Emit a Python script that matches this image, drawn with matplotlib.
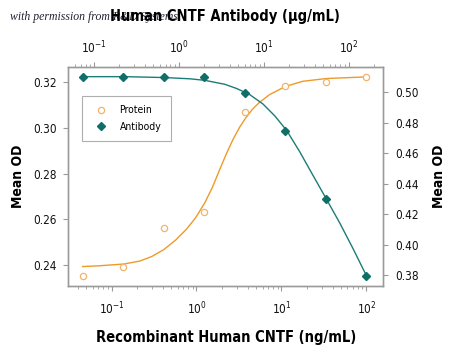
import matplotlib
matplotlib.use("Agg")
from matplotlib import pyplot as plt
from matplotlib import font_manager
from matplotlib.ticker import LogLocator, NullFormatter, FixedLocator

# look for a narrow sans font, else plain DejaVu
FONT = 'DejaVu Sans'
STRETCH = 'normal'
for f in font_manager.fontManager.ttflist:
    low = f.name.lower()
    if 'serif' in low or 'mono' in low or 'cjk' in low:
        continue
    if 'condensed' in low or 'narrow' in low:
        FONT = f.name
        break
    if f.stretch in ('condensed', 'semi-condensed', 'extra-condensed') or \
            (isinstance(f.stretch, int) and f.stretch < 500):
        FONT = f.name
        STRETCH = 'condensed'
        break
plt.rcParams['font.family'] = [FONT, 'DejaVu Sans']
plt.rcParams['font.stretch'] = STRETCH
plt.rcParams['mathtext.fontset'] = 'custom'
plt.rcParams['mathtext.rm'] = FONT
plt.rcParams['mathtext.it'] = FONT
plt.rcParams['mathtext.bf'] = FONT
narrow = FONT != 'DejaVu Sans'

# concentrations (ng/mL), 3-fold dilutions
conc = [0.0457, 0.137, 0.412, 1.235, 3.70, 11.1, 33.3, 100]
protein_od = [0.2353, 0.2394, 0.2561, 0.2633, 0.3070, 0.3181, 0.3198, 0.3222]
antibody_od = [0.5100, 0.5100, 0.5100, 0.5098, 0.4998, 0.4747, 0.4300, 0.3795]

# fitted curves
protein_fit_x = [0.0457, 0.0695, 0.140, 0.215, 0.298, 0.412, 0.570, 0.762, 0.981,
                 1.25, 1.52, 1.88, 2.27, 2.70, 3.23, 3.77, 4.59, 5.56, 7.28,
                 11.1, 17.9, 34.1, 100]
protein_fit_y = [0.2394, 0.2397, 0.2405, 0.2418, 0.2438, 0.2468, 0.2510, 0.2557, 0.2608,
                 0.2672, 0.2735, 0.2818, 0.2890, 0.2950, 0.3003, 0.3041, 0.3082, 0.3112, 0.3145,
                 0.3180, 0.3203, 0.3215, 0.3222]
antibody_fit_x = [0.0457, 0.143, 0.424, 0.833, 1.25, 2.15, 2.98, 4.24, 6.08, 8.34,
                  11.5, 16.4, 23.5, 34.4, 48.5, 69.5, 100]
antibody_fit_y = [0.5102, 0.5102, 0.5096, 0.5088, 0.5078, 0.5052, 0.5024, 0.4984, 0.4922, 0.4845,
                  0.4750, 0.4610, 0.4455, 0.4292, 0.4143, 0.3975, 0.3797]

left_ticks = [0.24, 0.26, 0.28, 0.30, 0.32]
right_ticks = [0.38, 0.40, 0.42, 0.44, 0.46, 0.48, 0.50]

orange = '#EE9A2A'
orange_light = '#F2B46A'
teal = '#1B7C78'
grey = '#9A9A9A'

if narrow:
    fs_tick, fs_ylab, fs_xlab, fs_leg = 10.5, 13, 14, 9
else:
    fs_tick, fs_ylab, fs_xlab, fs_leg = 8.5, 10, 10.5, 7.5

fig = plt.figure(figsize=(4.5, 3.52), dpi=100)
ax = fig.add_axes([0.152, 0.1875, 0.699, 0.622])
ax2 = ax.twinx()
ax3 = ax.twiny()

ax.set_xscale('log')
ax.set_xlim(0.031, 157)
ax.set_ylim(0.2309, 0.3265)
ax2.set_ylim(0.3728, 0.5165)
ax3.set_xscale('log')
ax3.set_xlim(0.031 * 1.62, 157 * 1.62)

ax.plot(protein_fit_x, protein_fit_y, color=orange, lw=1.0, zorder=2)
p1, = ax.plot(conc, protein_od, 'o', ms=4.5, mfc='white', mec=orange_light, mew=0.9,
              label='Protein', zorder=3)
ax2.plot(antibody_fit_x, antibody_fit_y, color=teal, lw=1.0, zorder=2)
p2, = ax2.plot(conc, antibody_od, 'D', ms=4.2, color='#0F6E68', label='Antibody', zorder=3)

for a in (ax, ax2, ax3):
    for s in a.spines.values():
        s.set_color(grey)
        s.set_linewidth(0.9)
    a.tick_params(which='both', direction='out', color=grey, labelsize=fs_tick,
                  labelcolor='#111111')
    a.tick_params(which='major', length=3.5, width=0.8)
    a.tick_params(which='minor', length=2.2, width=0.6)

ax.yaxis.set_major_locator(FixedLocator(left_ticks))
ax.set_yticklabels(['%.2f' % t for t in left_ticks])
ax2.yaxis.set_major_locator(FixedLocator(right_ticks))
ax2.set_yticklabels(['%.2f' % t for t in right_ticks])
for a in (ax, ax3):
    a.xaxis.set_major_locator(LogLocator(base=10))
    a.xaxis.set_minor_locator(LogLocator(base=10, subs=range(2, 10)))
    a.xaxis.set_minor_formatter(NullFormatter())
ax.tick_params(axis='x', pad=7)
ax3.tick_params(axis='x', pad=4)
ax.tick_params(axis='y', pad=5)
ax2.tick_params(axis='y', pad=5)

ax.set_ylabel('Mean OD', fontsize=fs_ylab, fontweight='bold', labelpad=6)
ax2.set_ylabel('Mean OD', fontsize=fs_ylab, fontweight='bold', labelpad=10)
ax.set_xlabel('Recombinant Human CNTF (ng/mL)', fontsize=fs_xlab, fontweight='bold',
              labelpad=9)

fig.text(0.022, 0.952, 'with permission from R&D Systems', fontsize=8.5,
         family=['Liberation Serif', 'DejaVu Serif'], style='italic', color='#222233',
         va='center', zorder=1)
fig.text(0.5, 0.952, 'Human CNTF Antibody (\u03bcg/mL)', fontsize=fs_xlab, fontweight='bold',
         ha='center', va='center', zorder=2)

leg = ax.legend(handles=[p1, p2], loc='upper left', bbox_to_anchor=(0.043, 0.868),
                borderaxespad=0, frameon=True, fancybox=False, fontsize=fs_leg,
                handletextpad=0.9, borderpad=0.9, labelspacing=0.6, handlelength=1.8)
leg.get_frame().set_edgecolor(grey)
leg.get_frame().set_linewidth(0.8)

fig.savefig('out.png', dpi=100)
